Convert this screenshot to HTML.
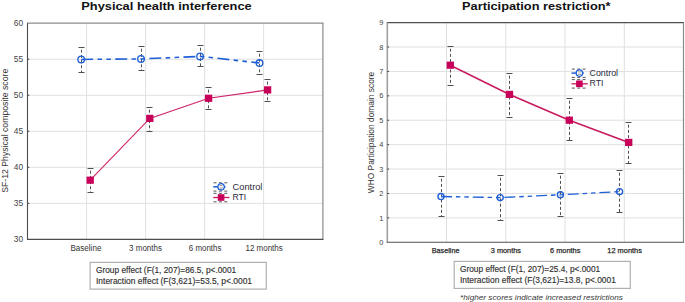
<!DOCTYPE html>
<html><head><meta charset="utf-8"><style>
html,body{margin:0;padding:0;background:#fff;width:685px;height:302px;overflow:hidden}
svg{display:block;font-family:"Liberation Sans", sans-serif}
</style></head><body>
<svg width="685" height="302" viewBox="0 0 685 302">
<rect width="685" height="302" fill="#fff"/>
<line x1="86.6" y1="23.1" x2="86.6" y2="239.4" stroke="#e0e0e0" stroke-width="1"/>
<line x1="145.6" y1="23.1" x2="145.6" y2="239.4" stroke="#e0e0e0" stroke-width="1"/>
<line x1="204.6" y1="23.1" x2="204.6" y2="239.4" stroke="#e0e0e0" stroke-width="1"/>
<line x1="263.6" y1="23.1" x2="263.6" y2="239.4" stroke="#e0e0e0" stroke-width="1"/>
<line x1="27.5" y1="59.23" x2="322.9" y2="59.23" stroke="#e0e0e0" stroke-width="1"/>
<line x1="27.5" y1="95.26" x2="322.9" y2="95.26" stroke="#e0e0e0" stroke-width="1"/>
<line x1="27.5" y1="131.29" x2="322.9" y2="131.29" stroke="#e0e0e0" stroke-width="1"/>
<line x1="27.5" y1="167.32" x2="322.9" y2="167.32" stroke="#e0e0e0" stroke-width="1"/>
<line x1="27.5" y1="203.35" x2="322.9" y2="203.35" stroke="#e0e0e0" stroke-width="1"/>
<line x1="27.0" y1="23.1" x2="323.4" y2="23.1" stroke="#8c8c8c" stroke-width="1.1"/>
<line x1="322.9" y1="23.1" x2="322.9" y2="239.4" stroke="#8a8a8a" stroke-width="1.2"/>
<line x1="27.5" y1="23.1" x2="27.5" y2="239.4" stroke="#4d4d4d" stroke-width="1.1"/>
<line x1="27.0" y1="239.4" x2="323.4" y2="239.4" stroke="#4d4d4d" stroke-width="1.1"/>
<line x1="27.5" y1="59.23" x2="29.3" y2="59.23" stroke="#444" stroke-width="1"/>
<line x1="27.5" y1="95.26" x2="29.3" y2="95.26" stroke="#444" stroke-width="1"/>
<line x1="27.5" y1="131.29" x2="29.3" y2="131.29" stroke="#444" stroke-width="1"/>
<line x1="27.5" y1="167.32" x2="29.3" y2="167.32" stroke="#444" stroke-width="1"/>
<line x1="27.5" y1="203.35" x2="29.3" y2="203.35" stroke="#444" stroke-width="1"/>
<text x="23.2" y="26.18" text-anchor="end" font-size="8.4" fill="#444">60</text>
<text x="23.2" y="62.21" text-anchor="end" font-size="8.4" fill="#444">55</text>
<text x="23.2" y="98.24" text-anchor="end" font-size="8.4" fill="#444">50</text>
<text x="23.2" y="134.27" text-anchor="end" font-size="8.4" fill="#444">45</text>
<text x="23.2" y="170.3" text-anchor="end" font-size="8.4" fill="#444">40</text>
<text x="23.2" y="206.33" text-anchor="end" font-size="8.4" fill="#444">35</text>
<text x="23.2" y="242.36" text-anchor="end" font-size="8.4" fill="#444">30</text>
<text x="85.9" y="250.8" text-anchor="middle" font-size="8.5" fill="#333333" textLength="30.98" lengthAdjust="spacingAndGlyphs">Baseline</text>
<text x="145.55" y="250.8" text-anchor="middle" font-size="8.5" fill="#333333" textLength="32.87" lengthAdjust="spacingAndGlyphs">3 months</text>
<text x="205.1" y="250.8" text-anchor="middle" font-size="8.5" fill="#333333" textLength="32.57" lengthAdjust="spacingAndGlyphs">6 months</text>
<text x="264.1" y="250.8" text-anchor="middle" font-size="8.5" fill="#333333" textLength="37.26" lengthAdjust="spacingAndGlyphs">12 months</text>
<text transform="translate(7.6,130.8) rotate(-90)" text-anchor="middle" font-size="8.5" fill="#333333" textLength="124.03" lengthAdjust="spacingAndGlyphs">SF-12 Physical composite score</text>
<text x="166.5" y="9.6" text-anchor="middle" font-size="11.6" font-weight="bold" fill="#111" textLength="170.52" lengthAdjust="spacingAndGlyphs">Physical health interference</text>
<line x1="81.5" y1="47.5" x2="81.5" y2="72.5" stroke="#505050" stroke-width="1" stroke-dasharray="3 2.2" stroke-dashoffset="3"/>
<line x1="78.5" y1="47.5" x2="84.5" y2="47.5" stroke="#505050" stroke-width="1"/>
<line x1="78.5" y1="72.5" x2="84.5" y2="72.5" stroke="#505050" stroke-width="1"/>
<line x1="141.5" y1="46.5" x2="141.5" y2="70.5" stroke="#505050" stroke-width="1" stroke-dasharray="3 2.2" stroke-dashoffset="3"/>
<line x1="138.5" y1="46.5" x2="144.5" y2="46.5" stroke="#505050" stroke-width="1"/>
<line x1="138.5" y1="70.5" x2="144.5" y2="70.5" stroke="#505050" stroke-width="1"/>
<line x1="200.5" y1="45.5" x2="200.5" y2="66.5" stroke="#505050" stroke-width="1" stroke-dasharray="3 2.2" stroke-dashoffset="3"/>
<line x1="197.5" y1="45.5" x2="203.5" y2="45.5" stroke="#505050" stroke-width="1"/>
<line x1="197.5" y1="66.5" x2="203.5" y2="66.5" stroke="#505050" stroke-width="1"/>
<line x1="259.5" y1="51.5" x2="259.5" y2="74.5" stroke="#505050" stroke-width="1" stroke-dasharray="3 2.2" stroke-dashoffset="3"/>
<line x1="256.5" y1="51.5" x2="262.5" y2="51.5" stroke="#505050" stroke-width="1"/>
<line x1="256.5" y1="74.5" x2="262.5" y2="74.5" stroke="#505050" stroke-width="1"/>
<line x1="90.5" y1="168.5" x2="90.5" y2="192.5" stroke="#505050" stroke-width="1" stroke-dasharray="3 2.2" stroke-dashoffset="3"/>
<line x1="87.5" y1="168.5" x2="93.5" y2="168.5" stroke="#505050" stroke-width="1"/>
<line x1="87.5" y1="192.5" x2="93.5" y2="192.5" stroke="#505050" stroke-width="1"/>
<line x1="149.5" y1="107.5" x2="149.5" y2="131.5" stroke="#505050" stroke-width="1" stroke-dasharray="3 2.2" stroke-dashoffset="3"/>
<line x1="146.5" y1="107.5" x2="152.5" y2="107.5" stroke="#505050" stroke-width="1"/>
<line x1="146.5" y1="131.5" x2="152.5" y2="131.5" stroke="#505050" stroke-width="1"/>
<line x1="208.5" y1="87.5" x2="208.5" y2="109.5" stroke="#505050" stroke-width="1" stroke-dasharray="3 2.2" stroke-dashoffset="3"/>
<line x1="205.5" y1="87.5" x2="211.5" y2="87.5" stroke="#505050" stroke-width="1"/>
<line x1="205.5" y1="109.5" x2="211.5" y2="109.5" stroke="#505050" stroke-width="1"/>
<line x1="267.5" y1="79.5" x2="267.5" y2="101.5" stroke="#505050" stroke-width="1" stroke-dasharray="3 2.2" stroke-dashoffset="3"/>
<line x1="264.5" y1="79.5" x2="270.5" y2="79.5" stroke="#505050" stroke-width="1"/>
<line x1="264.5" y1="101.5" x2="270.5" y2="101.5" stroke="#505050" stroke-width="1"/>
<polyline points="81.2,59.4 141.0,58.9 200.1,56.4 259.5,63.0" fill="none" stroke="#1f5fd6" stroke-width="1.55" stroke-dasharray="11.9 4.4 4.5 4.4 4.5 4.4"/>
<polyline points="90.2,180.2 149.8,118.4 208.6,98.3 267.6,89.9" fill="none" stroke="#d0246a" stroke-width="1.15"/>
<circle cx="81.2" cy="59.4" r="3.3" fill="none" stroke="#1f5fd6" stroke-width="1.35"/>
<circle cx="141.0" cy="58.9" r="3.3" fill="none" stroke="#1f5fd6" stroke-width="1.35"/>
<circle cx="200.1" cy="56.4" r="3.3" fill="none" stroke="#1f5fd6" stroke-width="1.35"/>
<circle cx="259.5" cy="63.0" r="3.3" fill="none" stroke="#1f5fd6" stroke-width="1.35"/>
<rect x="86.55" y="176.6" width="7.3" height="7.2" fill="#c8005a"/>
<rect x="146.15" y="114.8" width="7.3" height="7.2" fill="#c8005a"/>
<rect x="204.95" y="94.7" width="7.3" height="7.2" fill="#c8005a"/>
<rect x="263.95" y="86.3" width="7.3" height="7.2" fill="#c8005a"/>
<line x1="213.5" y1="182.8" x2="229.3" y2="182.8" stroke="#555" stroke-width="1" stroke-dasharray="3 2.4"/>
<line x1="213.5" y1="191.1" x2="229.3" y2="191.1" stroke="#555" stroke-width="1" stroke-dasharray="3 2.4"/>
<line x1="213.5" y1="193.3" x2="229.3" y2="193.3" stroke="#555" stroke-width="1" stroke-dasharray="3 2.4"/>
<line x1="213.5" y1="201.8" x2="229.3" y2="201.8" stroke="#555" stroke-width="1" stroke-dasharray="3 2.4"/>
<line x1="213.2" y1="186.8" x2="225.5" y2="186.8" stroke="#1f5fd6" stroke-width="1.5"/>
<circle cx="221.1" cy="186.8" r="3.2" fill="#fff" stroke="#1f5fd6" stroke-width="1.3"/>
<line x1="219.6" y1="185.6" x2="222.6" y2="185.6" stroke="#777" stroke-width="0.8"/>
<line x1="219.6" y1="188.0" x2="222.6" y2="188.0" stroke="#777" stroke-width="0.8"/>
<line x1="213.2" y1="197.5" x2="229.5" y2="197.5" stroke="#c81a5e" stroke-width="1.3"/>
<rect x="217.8" y="194.2" width="6.6" height="6.6" fill="#c8005a"/>
<text x="232.6" y="189.6" font-size="9" fill="#2a2a3a" textLength="29.84" lengthAdjust="spacingAndGlyphs">Control</text>
<text x="232.6" y="200.2" font-size="9" fill="#2a2a3a" textLength="13.63" lengthAdjust="spacingAndGlyphs">RTI</text>
<rect x="90.1" y="262.4" width="176.2" height="26.7" fill="#fff" stroke="#b0b0b0" stroke-width="1.2"/>
<text x="96.0" y="273.2" font-size="8.2" fill="#2a2a2a" textLength="140.22" lengthAdjust="spacingAndGlyphs" stroke="#444" stroke-width="0.15">Group effect (F(1, 207)=86.5, p&lt;.0001</text>
<text x="96.0" y="283.6" font-size="8.2" fill="#2a2a2a" textLength="156.03" lengthAdjust="spacingAndGlyphs" stroke="#444" stroke-width="0.15">Interaction effect (F(3,621)=53.5, p&lt;.0001</text>
<line x1="446.5" y1="22.6" x2="446.5" y2="242.3" stroke="#e0e0e0" stroke-width="1"/>
<line x1="505.8" y1="22.6" x2="505.8" y2="242.3" stroke="#e0e0e0" stroke-width="1"/>
<line x1="565.0" y1="22.6" x2="565.0" y2="242.3" stroke="#e0e0e0" stroke-width="1"/>
<line x1="624.3" y1="22.6" x2="624.3" y2="242.3" stroke="#e0e0e0" stroke-width="1"/>
<line x1="387.3" y1="47.01" x2="683.5" y2="47.01" stroke="#e0e0e0" stroke-width="1"/>
<line x1="387.3" y1="71.42" x2="683.5" y2="71.42" stroke="#e0e0e0" stroke-width="1"/>
<line x1="387.3" y1="95.83" x2="683.5" y2="95.83" stroke="#e0e0e0" stroke-width="1"/>
<line x1="387.3" y1="120.24" x2="683.5" y2="120.24" stroke="#e0e0e0" stroke-width="1"/>
<line x1="387.3" y1="144.65" x2="683.5" y2="144.65" stroke="#e0e0e0" stroke-width="1"/>
<line x1="387.3" y1="169.06" x2="683.5" y2="169.06" stroke="#e0e0e0" stroke-width="1"/>
<line x1="387.3" y1="193.47" x2="683.5" y2="193.47" stroke="#e0e0e0" stroke-width="1"/>
<line x1="387.3" y1="217.88" x2="683.5" y2="217.88" stroke="#e0e0e0" stroke-width="1"/>
<line x1="386.8" y1="22.6" x2="684.0" y2="22.6" stroke="#505050" stroke-width="1.1"/>
<line x1="683.5" y1="22.6" x2="683.5" y2="242.3" stroke="#8a8a8a" stroke-width="1.2"/>
<line x1="387.3" y1="22.6" x2="387.3" y2="242.3" stroke="#a0a0a0" stroke-width="1.6"/>
<line x1="386.8" y1="242.3" x2="684.0" y2="242.3" stroke="#505050" stroke-width="1.1"/>
<line x1="387.3" y1="47.01" x2="389.1" y2="47.01" stroke="#444" stroke-width="1"/>
<line x1="387.3" y1="71.42" x2="389.1" y2="71.42" stroke="#444" stroke-width="1"/>
<line x1="387.3" y1="95.83" x2="389.1" y2="95.83" stroke="#444" stroke-width="1"/>
<line x1="387.3" y1="120.24" x2="389.1" y2="120.24" stroke="#444" stroke-width="1"/>
<line x1="387.3" y1="144.65" x2="389.1" y2="144.65" stroke="#444" stroke-width="1"/>
<line x1="387.3" y1="169.06" x2="389.1" y2="169.06" stroke="#444" stroke-width="1"/>
<line x1="387.3" y1="193.47" x2="389.1" y2="193.47" stroke="#444" stroke-width="1"/>
<line x1="387.3" y1="217.88" x2="389.1" y2="217.88" stroke="#444" stroke-width="1"/>
<text x="383.4" y="25.23" text-anchor="end" font-size="7.4" fill="#444">9</text>
<text x="383.4" y="49.64" text-anchor="end" font-size="7.4" fill="#444">8</text>
<text x="383.4" y="74.05" text-anchor="end" font-size="7.4" fill="#444">7</text>
<text x="383.4" y="98.46" text-anchor="end" font-size="7.4" fill="#444">6</text>
<text x="383.4" y="122.87" text-anchor="end" font-size="7.4" fill="#444">5</text>
<text x="383.4" y="147.28" text-anchor="end" font-size="7.4" fill="#444">4</text>
<text x="383.4" y="171.69" text-anchor="end" font-size="7.4" fill="#444">3</text>
<text x="383.4" y="196.1" text-anchor="end" font-size="7.4" fill="#444">2</text>
<text x="383.4" y="220.51" text-anchor="end" font-size="7.4" fill="#444">1</text>
<text x="383.4" y="244.92" text-anchor="end" font-size="7.4" fill="#444">0</text>
<text x="445.6" y="253.1" text-anchor="middle" font-size="7.3" fill="#222" textLength="27.80" lengthAdjust="spacingAndGlyphs" stroke="#333" stroke-width="0.25">Baseline</text>
<text x="505.9" y="253.1" text-anchor="middle" font-size="7.3" fill="#222" textLength="30.22" lengthAdjust="spacingAndGlyphs" stroke="#333" stroke-width="0.25">3 months</text>
<text x="565.2" y="253.1" text-anchor="middle" font-size="7.3" fill="#222" textLength="30.42" lengthAdjust="spacingAndGlyphs" stroke="#333" stroke-width="0.25">6 months</text>
<text x="624.6" y="253.1" text-anchor="middle" font-size="7.3" fill="#222" textLength="34.58" lengthAdjust="spacingAndGlyphs" stroke="#333" stroke-width="0.25">12 months</text>
<text transform="translate(373.6,132.5) rotate(-90)" text-anchor="middle" font-size="8.3" fill="#333333" textLength="121.56" lengthAdjust="spacingAndGlyphs">WHO Participation domain score</text>
<text x="536.3" y="9.6" text-anchor="middle" font-size="11.6" font-weight="bold" fill="#111" textLength="148.42" lengthAdjust="spacingAndGlyphs">Participation restriction*</text>
<line x1="441.5" y1="176.5" x2="441.5" y2="216.5" stroke="#505050" stroke-width="1" stroke-dasharray="3 2.2" stroke-dashoffset="3"/>
<line x1="438.5" y1="176.5" x2="444.5" y2="176.5" stroke="#505050" stroke-width="1"/>
<line x1="438.5" y1="216.5" x2="444.5" y2="216.5" stroke="#505050" stroke-width="1"/>
<line x1="500.5" y1="175.5" x2="500.5" y2="220.5" stroke="#505050" stroke-width="1" stroke-dasharray="3 2.2" stroke-dashoffset="3"/>
<line x1="497.5" y1="175.5" x2="503.5" y2="175.5" stroke="#505050" stroke-width="1"/>
<line x1="497.5" y1="220.5" x2="503.5" y2="220.5" stroke="#505050" stroke-width="1"/>
<line x1="560.5" y1="173.5" x2="560.5" y2="216.5" stroke="#505050" stroke-width="1" stroke-dasharray="3 2.2" stroke-dashoffset="3"/>
<line x1="557.5" y1="173.5" x2="563.5" y2="173.5" stroke="#505050" stroke-width="1"/>
<line x1="557.5" y1="216.5" x2="563.5" y2="216.5" stroke="#505050" stroke-width="1"/>
<line x1="619.5" y1="170.5" x2="619.5" y2="212.5" stroke="#505050" stroke-width="1" stroke-dasharray="3 2.2" stroke-dashoffset="3"/>
<line x1="616.5" y1="170.5" x2="622.5" y2="170.5" stroke="#505050" stroke-width="1"/>
<line x1="616.5" y1="212.5" x2="622.5" y2="212.5" stroke="#505050" stroke-width="1"/>
<line x1="450.5" y1="46.5" x2="450.5" y2="85.5" stroke="#505050" stroke-width="1" stroke-dasharray="3 2.2" stroke-dashoffset="3"/>
<line x1="447.5" y1="46.5" x2="453.5" y2="46.5" stroke="#505050" stroke-width="1"/>
<line x1="447.5" y1="85.5" x2="453.5" y2="85.5" stroke="#505050" stroke-width="1"/>
<line x1="509.5" y1="73.5" x2="509.5" y2="117.5" stroke="#505050" stroke-width="1" stroke-dasharray="3 2.2" stroke-dashoffset="3"/>
<line x1="506.5" y1="73.5" x2="512.5" y2="73.5" stroke="#505050" stroke-width="1"/>
<line x1="506.5" y1="117.5" x2="512.5" y2="117.5" stroke="#505050" stroke-width="1"/>
<line x1="569.5" y1="98.5" x2="569.5" y2="140.5" stroke="#505050" stroke-width="1" stroke-dasharray="3 2.2" stroke-dashoffset="3"/>
<line x1="566.5" y1="98.5" x2="572.5" y2="98.5" stroke="#505050" stroke-width="1"/>
<line x1="566.5" y1="140.5" x2="572.5" y2="140.5" stroke="#505050" stroke-width="1"/>
<line x1="628.5" y1="122.5" x2="628.5" y2="163.5" stroke="#505050" stroke-width="1" stroke-dasharray="3 2.2" stroke-dashoffset="3"/>
<line x1="625.5" y1="122.5" x2="631.5" y2="122.5" stroke="#505050" stroke-width="1"/>
<line x1="625.5" y1="163.5" x2="631.5" y2="163.5" stroke="#505050" stroke-width="1"/>
<polyline points="441.0,196.5 500.2,197.6 560.4,194.8 619.6,191.6" fill="none" stroke="#1f5fd6" stroke-width="1.35" stroke-dasharray="11.0 3.9 4.5 3.9 4.5 3.9"/>
<polyline points="450.3,65.2 509.5,94.4 569.3,120.2 628.7,142.4" fill="none" stroke="#c81a5e" stroke-width="1.6"/>
<circle cx="441.0" cy="196.5" r="3.05" fill="none" stroke="#1f5fd6" stroke-width="1.35"/>
<circle cx="500.2" cy="197.6" r="3.05" fill="none" stroke="#1f5fd6" stroke-width="1.35"/>
<circle cx="560.4" cy="194.8" r="3.05" fill="none" stroke="#1f5fd6" stroke-width="1.35"/>
<circle cx="619.6" cy="191.6" r="3.05" fill="none" stroke="#1f5fd6" stroke-width="1.35"/>
<rect x="446.65" y="61.6" width="7.3" height="7.2" fill="#c8005a"/>
<rect x="505.85" y="90.8" width="7.3" height="7.2" fill="#c8005a"/>
<rect x="565.65" y="116.6" width="7.3" height="7.2" fill="#c8005a"/>
<rect x="625.05" y="138.8" width="7.3" height="7.2" fill="#c8005a"/>
<line x1="571.8" y1="69.1" x2="587.6" y2="69.1" stroke="#555" stroke-width="1" stroke-dasharray="3 2.4"/>
<line x1="571.8" y1="77.4" x2="587.6" y2="77.4" stroke="#555" stroke-width="1" stroke-dasharray="3 2.4"/>
<line x1="571.8" y1="79.6" x2="587.6" y2="79.6" stroke="#555" stroke-width="1" stroke-dasharray="3 2.4"/>
<line x1="571.8" y1="88.1" x2="587.6" y2="88.1" stroke="#555" stroke-width="1" stroke-dasharray="3 2.4"/>
<line x1="571.5" y1="73.1" x2="583.8" y2="73.1" stroke="#1f5fd6" stroke-width="1.5"/>
<circle cx="579.4" cy="73.1" r="3.2" fill="#fff" stroke="#1f5fd6" stroke-width="1.3"/>
<line x1="577.9" y1="71.9" x2="580.9" y2="71.9" stroke="#777" stroke-width="0.8"/>
<line x1="577.9" y1="74.3" x2="580.9" y2="74.3" stroke="#777" stroke-width="0.8"/>
<line x1="571.5" y1="83.8" x2="587.8" y2="83.8" stroke="#c81a5e" stroke-width="1.3"/>
<rect x="576.1" y="80.5" width="6.6" height="6.6" fill="#c8005a"/>
<text x="589.5" y="75.9" font-size="8.4" fill="#2a2a3a" textLength="28.56" lengthAdjust="spacingAndGlyphs">Control</text>
<text x="589.5" y="86.3" font-size="8.4" fill="#2a2a3a" textLength="14.01" lengthAdjust="spacingAndGlyphs">RTI</text>
<rect x="454.2" y="261.4" width="176.1" height="27.0" fill="#fff" stroke="#b0b0b0" stroke-width="1.2"/>
<text x="460.0" y="271.8" font-size="8.2" fill="#2a2a2a" textLength="140.22" lengthAdjust="spacingAndGlyphs" stroke="#444" stroke-width="0.15">Group effect (F(1, 207)=25.4, p&lt;.0001</text>
<text x="460.0" y="283.0" font-size="8.2" fill="#2a2a2a" textLength="155.93" lengthAdjust="spacingAndGlyphs" stroke="#444" stroke-width="0.15">Interaction effect (F(3,621)=13.8, p&lt;.0001</text>
<text x="460.1" y="300.0" font-size="7.2" font-style="italic" fill="#3a3a3a" textLength="162.81" lengthAdjust="spacingAndGlyphs">*higher scores indicate increased restrictions</text>
</svg>
</body></html>
